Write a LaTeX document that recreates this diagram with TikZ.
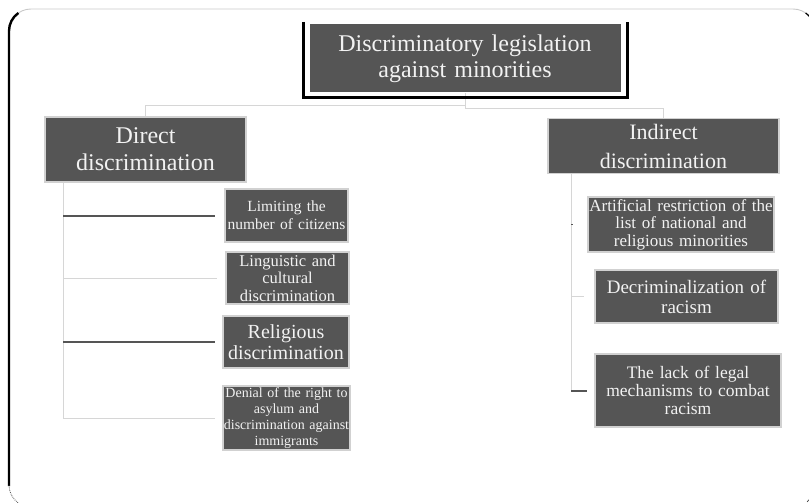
\documentclass[tikz,border=0pt]{standalone}
\usepackage{fontspec}
\setmainfont{Liberation Serif}
\newcommand{\fsz}[2]{\fontsize{#1}{#2}\selectfont}
\definecolor{boxgray}{HTML}{555555}
\definecolor{boxtext}{HTML}{F2F2F2}
\definecolor{lightline}{HTML}{D6D6D6}
\definecolor{darkline}{HTML}{555555}
\definecolor{frameline}{HTML}{C8C8C8}
\begin{document}
\begin{tikzpicture}[x=1pt,y=-1pt,
  box/.style={fill=boxgray, draw=black!18, line width=1.2pt, text=boxtext,
    align=center, inner sep=0pt},
  light/.style={draw=lightline, line width=1pt},
  dark/.style={draw=darkline, line width=2pt}]
\useasboundingbox (0,0) rectangle (809,503);
\clip (0,0) rectangle (809,503);
% outer frame (y axis points down, so arc angles are mirrored)
\draw[frameline, line width=0.9pt] (9,485) -- (9,31) arc[start angle=180, end angle=270, radius=22]
  -- (793,9) arc[start angle=270, end angle=360, radius=22] -- (815,485);
\draw[black, line width=2.4pt] (9,486) -- (9,31) arc[start angle=180, end angle=235, radius=22];
\draw[black, line width=1.2pt] (793,31) ++(-55:22) arc[start angle=-55, end angle=-35, radius=22];
\draw[black!70, line width=0.8pt] (793,485) ++(35:22) arc[start angle=35, end angle=50, radius=22];
\draw[black!70, line width=0.8pt, densely dotted] (9,485) arc[start angle=180, end angle=125, radius=22];

% nodes
\node[box, draw=none, minimum width=311pt, minimum height=68pt, text width=305pt,
  font=\fsz{24}{26}] (top) at (465,58.5) {Discriminatory legislation\\against minorities};
\node[box, minimum width=201pt, minimum height=65pt, text width=195pt,
  font=\fsz{24}{27}] (direct) at (145.5,149.5) {Direct\\discrimination};
\node[box, minimum width=231pt, minimum height=55pt, text width=225pt,
  font=\fsz{22}{29}] (indirect) at (663.5,146) {Indirect\\discrimination};

\node[box, minimum width=123pt, minimum height=53pt, text width=123pt,
  font=\fsz{15.5}{18}] (limiting) at (286.5,215.5) {Limiting the\\number of citizens};
\node[box, minimum width=123pt, minimum height=52pt, text width=123pt,
  font=\fsz{16.5}{17.5}] (linguistic) at (287.5,278) {Linguistic and\\cultural\\discrimination};
\node[box, minimum width=126pt, minimum height=52pt, text width=126pt,
  font=\fsz{20}{21}] (religious) at (286,342) {Religious\\discrimination};
\node[box, minimum width=127pt, minimum height=64pt, text width=127pt,
  font=\fsz{14}{16}] (denial) at (286.5,418) {Denial of the right to\\asylum and\\discrimination against\\immigrants};

\node[box, minimum width=186pt, minimum height=55pt, text width=186pt,
  font=\fsz{17}{17.5}] (artificial) at (681,224.5) {Artificial restriction of the\\list of national and\\religious minorities};
\node[box, minimum width=183pt, minimum height=53pt, text width=183pt,
  font=\fsz{19}{20}] (decrim) at (686.5,296.5) {Decriminalization of\\racism};
\node[box, minimum width=186pt, minimum height=73pt, text width=186pt,
  font=\fsz{17.5}{18}] (lack) at (688,390.5) {The lack of legal\\mechanisms to combat\\racism};

% top connectors
\draw[light] (top.south) -- ++(0,12) -| (direct.north);
\draw[light] (top.south) -- ++(0,15) -| (indirect.north);
% black frame of top node
\draw[black, line width=3pt] (303,22) -- (303,98) -- (627,98) -- (627,22);

% left trunk
\coordinate (trunkL) at ([xshift=19pt]direct.south west);
\draw[light] (trunkL) -- (trunkL |- denial.west) -- ([xshift=-7pt]denial.west);
\draw[light] (trunkL |- linguistic.west) -- ([xshift=-8pt]linguistic.west);
\draw[dark] (trunkL |- limiting.west) -- ([xshift=-9pt]limiting.west);
\draw[dark] (trunkL |- religious.west) -- ([xshift=-7pt]religious.west);

% right trunk
\coordinate (trunkR) at ([xshift=24pt]indirect.south west);
\draw[light] (trunkR) -- (trunkR |- lack.west);
\draw[light] (trunkR |- decrim.west) -- ([xshift=-10pt]decrim.west);
\draw[dark] (trunkR |- lack.west) -- ([xshift=-7pt]lack.west);
\draw[darkline, line width=1.2pt] (trunkR |- artificial.west) -- ++(2,0);
\end{tikzpicture}
\end{document}
